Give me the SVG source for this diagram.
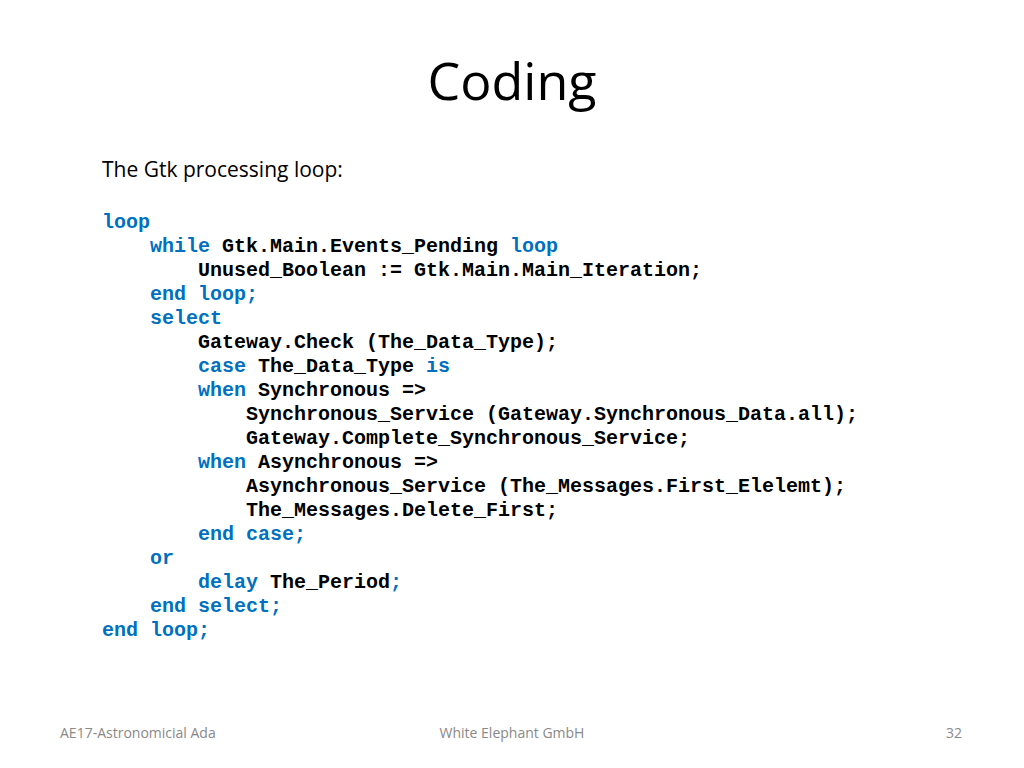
<svg xmlns="http://www.w3.org/2000/svg" width="1024" height="768" viewBox="0 0 1024 768">
<style>
.c{font-family:"Liberation Mono",monospace;font-weight:bold;font-size:20px;fill:#000}
.k{fill:#0070C0}
.f{font-family:"Open Sans","Liberation Sans",sans-serif;font-size:14px;fill:#898989}
</style>
<rect width="1024" height="768" fill="#fff"/>
<text x="512" y="100" text-anchor="middle" font-family="Open Sans, Liberation Sans, sans-serif" font-size="52" fill="#000">Coding</text>
<text x="102" y="177" font-family="Open Sans, Liberation Sans, sans-serif" font-size="21" fill="#000">The Gtk processing loop:</text>
<g class="c">
<text x="102" y="228" class="c k">loop</text>
<text x="150" y="252" class="c"><tspan class="k">while</tspan> Gtk.Main.Events_Pending <tspan class="k">loop</tspan></text>
<text x="198" y="276" class="c">Unused_Boolean := Gtk.Main.Main_Iteration;</text>
<text x="150" y="300" class="c k">end loop;</text>
<text x="150" y="324" class="c k">select</text>
<text x="198" y="348" class="c">Gateway.Check (The_Data_Type);</text>
<text x="198" y="372" class="c"><tspan class="k">case</tspan> The_Data_Type <tspan class="k">is</tspan></text>
<text x="198" y="396" class="c"><tspan class="k">when</tspan> Synchronous =&gt;</text>
<text x="246" y="420" class="c">Synchronous_Service (Gateway.Synchronous_Data.all);</text>
<text x="246" y="444" class="c">Gateway.Complete_Synchronous_Service;</text>
<text x="198" y="468" class="c"><tspan class="k">when</tspan> Asynchronous =&gt;</text>
<text x="246" y="492" class="c">Asynchronous_Service (The_Messages.First_Elelemt);</text>
<text x="246" y="516" class="c">The_Messages.Delete_First;</text>
<text x="198" y="540" class="c k">end case;</text>
<text x="150" y="564" class="c k">or</text>
<text x="198" y="588" class="c"><tspan class="k">delay</tspan> The_Period<tspan class="k">;</tspan></text>
<text x="150" y="612" class="c k">end select;</text>
<text x="102" y="636" class="c k">end loop;</text>
</g>
<text x="60" y="738" class="f">AE17-Astronomicial Ada</text>
<text x="512" y="738" class="f" text-anchor="middle">White Elephant GmbH</text>
<text x="962" y="738" class="f" text-anchor="end">32</text>
</svg>
